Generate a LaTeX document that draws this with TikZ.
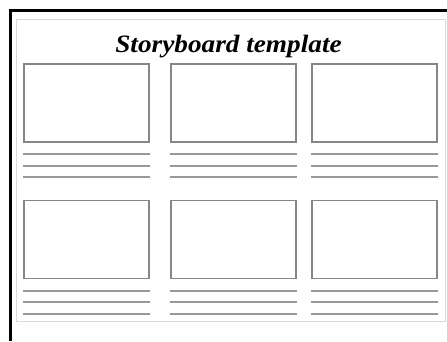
\documentclass[tikz,border=0pt]{standalone}
\usepackage{fontspec}
\setmainfont{Liberation Serif}
\begin{document}
\begin{tikzpicture}[x=1pt, y=-1pt,
    panel/.style={draw=gray!95, line width=1.3pt, minimum width=125pt, minimum height=78pt, inner sep=0pt},
    rule/.style={draw=gray!80, line width=1.8pt}]
    \useasboundingbox (0,0) rectangle (447,341);

    % Page border
    \node[draw=gray!30, line width=0.8pt, minimum width=429pt, minimum height=302pt, inner sep=0pt] (page) at (230.5,170) {};

    % Black frame
    \draw[line width=3pt] (10.5,341) -- (10.5,10.5) -- (447,10.5);

    % Title
    \node[anchor=base, inner sep=0pt, font=\fontsize{25}{30}\selectfont\bfseries\itshape] (title) at (228.5,52) {\scalebox{1.09}[1]{Storyboard template}};

    % Panels with their text lines
    \foreach \col/\x in {1/86.5, 2/233.5, 3/374.5} {
      \foreach \row/\y in {1/103, 2/239.5} {
        \node[panel] (p\row\col) at (\x,\y) {};
        \foreach \d in {11.5, 23, 34.5}
          \draw[rule] ([yshift=-\d pt]p\row\col.south west) -- ([yshift=-\d pt]p\row\col.south east);
      }
    }
\end{tikzpicture}
\end{document}
